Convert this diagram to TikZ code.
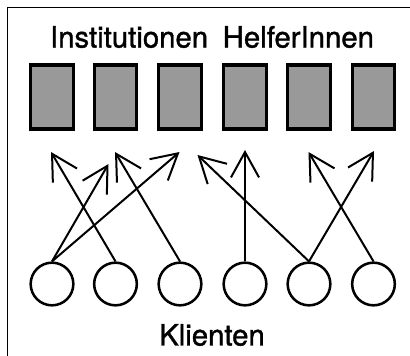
\documentclass[tikz,border=0pt]{standalone}
\usepackage{fontspec}
\setmainfont{TeX Gyre Heros}[RawFeature={embolden=1.3}]
\usetikzlibrary{arrows.meta}

\tikzset{
  instbox/.style={draw, line width=2.4pt, fill=black!40, minimum width=32pt, minimum height=48pt, inner sep=0pt},
  klient/.style={draw, circle, line width=1.9pt, minimum size=32pt, inner sep=0pt},
  pfeil/.style={line width=1.5pt, -{Straight Barb[length=19pt,width=21pt,line width=1.5pt]}},
  titel/.style={font=\fontsize{22}{26}\selectfont}
}

\begin{document}
\begin{tikzpicture}[x=0.75pt,y=0.75pt,yscale=-1,xscale=1]
\useasboundingbox (0,0) rectangle (410,356);
\clip (0,0) rectangle (410,356);

%Shape: Frame
\draw[line width=1.2pt] (7.5,7.5) rectangle (430,370);

% Text Node
\node[titel] (inst) at (212,37) {Institutionen\hspace{0.5em}HelferInnen};
\node[titel] (klt) at (212,335) {Klienten};

%Shape: Rectangles and Circles
\foreach \i/\x in {1/52,2/115.5,3/180,4/245,5/309,6/373.5}{
  \node[instbox] (inst\i) at (\x,97) {};
  \node[klient] (kl\i) at (\x,284) {};
}

%Arrow tips
\coordinate (t1) at (108.5,164);
\coordinate (t2) at (179.5,152);
\coordinate (t3) at (51,152);
\coordinate (t4) at (115,152);
\coordinate (t5) at (245,150);
\coordinate (t6) at (197.5,155);
\coordinate (t7) at (374,151);
\coordinate (t8) at (308.5,152);

%Straight Lines
\draw[pfeil] (kl1.north) -- (t1);
\draw[pfeil] (kl1.north) -- (t2);
\draw[pfeil] (kl2.north) -- (t3);
\draw[pfeil] (kl3.north) -- (t4);
\draw[pfeil] (kl4.north) -- (t5);
\draw[pfeil] (kl5.north) -- (t6);
\draw[pfeil] (kl5.north) -- (t7);
\draw[pfeil] (kl6.north) -- (t8);

\end{tikzpicture}
\end{document}
